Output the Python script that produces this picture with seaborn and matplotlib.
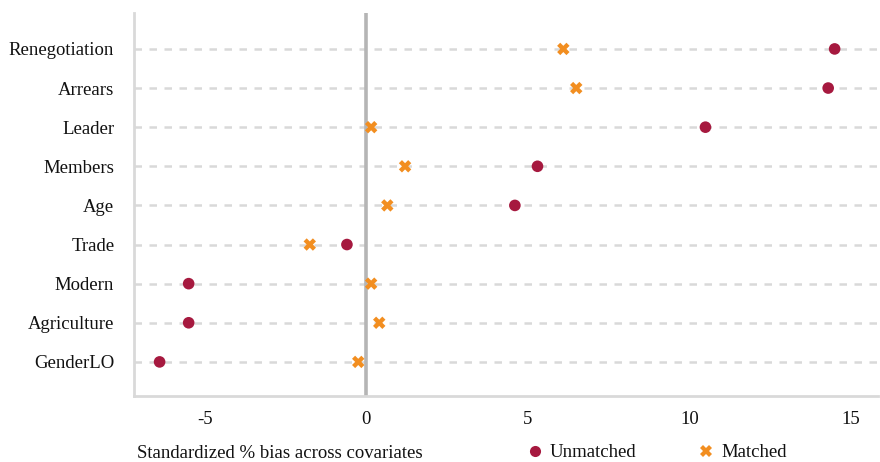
import pandas as pd
import seaborn as sns
import matplotlib.pyplot as plt

# covariates, top to bottom
covariates = ['Renegotiation', 'Arrears', 'Leader', 'Members', 'Age',
              'Trade', 'Modern', 'Agriculture', 'GenderLO']
unmatched = [14.5, 14.3, 10.5, 5.3, 4.6, -0.6, -5.5, -5.5, -6.4]
matched = [6.1, 6.5, 0.15, 1.2, 0.65, -1.75, 0.15, 0.4, -0.25]
xticks = [-5, 0, 5, 10, 15]

df = pd.DataFrame({'covariate': covariates * 2,
                   'bias': unmatched + matched,
                   'sample': ['Unmatched'] * len(covariates) + ['Matched'] * len(covariates)})

sns.set_style('white')
plt.rcParams['font.family'] = ['Liberation Serif', 'DejaVu Serif']
plt.rcParams['text.color'] = '#111111'
plt.rcParams['xtick.color'] = '#111111'
plt.rcParams['ytick.color'] = '#111111'

fig = plt.figure(figsize=(8.8, 4.62), dpi=100)
ax = fig.add_axes([0.152, 0.143, 0.846, 0.829])

ypos = list(range(len(covariates)))
for y in ypos:
    ax.axhline(y, color='#d9d9d9', lw=1.8, ls=(0, (3, 3)), zorder=0)
ax.axvline(0, color='#b5b5b5', lw=2.6, zorder=1)

sns.scatterplot(data=df, x='bias', y='covariate', hue='sample', style='sample',
                size='sample', sizes={'Unmatched': 70, 'Matched': 80},
                palette={'Unmatched': '#a6193f', 'Matched': '#f28e20'},
                markers={'Unmatched': 'o', 'Matched': 'X'},
                linewidth=0, ax=ax, zorder=3, legend=False)

ax.set_xlim(-7.2, 15.85)
ax.set_ylim(len(covariates) - 1 + 0.87, -0.92)
ax.set_xticks(xticks)
ax.set_xticklabels([str(t) for t in xticks], fontsize=13.5)
ax.tick_params(axis='y', labelsize=13.5, length=0, pad=14)
ax.tick_params(axis='x', length=0, pad=11)
ax.set_xlabel('')
ax.set_ylabel('')

for side in ['top', 'right']:
    ax.spines[side].set_visible(False)
for side in ['left', 'bottom']:
    ax.spines[side].set_color('#d9d9d9')
    ax.spines[side].set_linewidth(2)

fig.text(0.156, 0.0, 'Standardized % bias across covariates', fontsize=13.5,
         ha='left', va='bottom')

handles = [plt.Line2D([], [], marker='o', ls='', color='#a6193f', markersize=8, markeredgewidth=0),
           plt.Line2D([], [], marker='X', ls='', color='#f28e20', markersize=8, markeredgewidth=0)]
fig.legend(handles, ['Unmatched', 'Matched'], ncol=2, loc='lower left',
           bbox_to_anchor=(0.576, -0.035), frameon=False, fontsize=13.5,
           handletextpad=0.2, columnspacing=3.1, handlelength=1.2)

fig.savefig('out.png', dpi=100)
